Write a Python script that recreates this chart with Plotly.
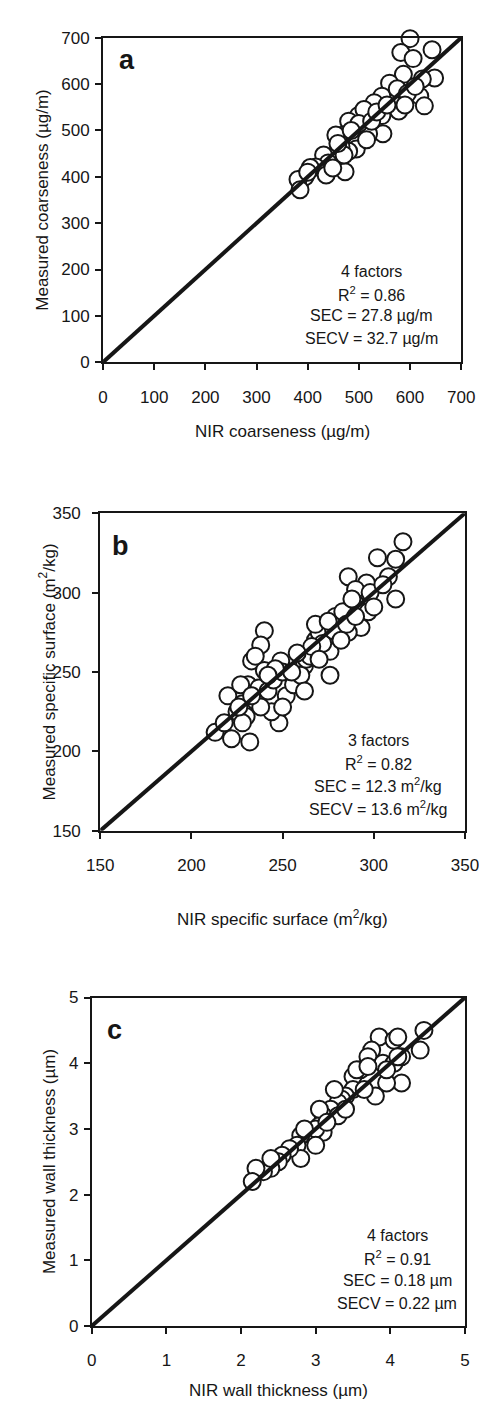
import plotly.graph_objects as go

# ---------------- data ----------------
a_nir = [600, 643, 582, 606, 648, 624, 587, 560, 619, 628, 578, 563, 545, 545, 499, 547, 519, 490,
         530, 510, 480, 470, 460, 495, 480, 465, 450, 431, 440, 473, 416, 405, 436, 449, 395, 381,
         385, 400, 455, 500, 525, 515, 575, 595, 535, 555, 610, 590, 471, 485, 459]
a_meas = [698, 674, 668, 655, 613, 611, 621, 602, 574, 553, 542, 570, 574, 532, 532, 493, 493, 504,
          560, 545, 520, 490, 480, 460, 455, 465, 445, 447, 430, 411, 421, 420, 404, 419, 400, 394,
          372, 410, 490, 515, 520, 480, 590, 580, 540, 555, 595, 555, 447, 500, 472]

b_nir = [316, 312, 302, 286, 296, 308, 290, 312, 290, 297, 281, 293, 286, 280, 240, 238, 233, 240,
         249, 261, 271, 279, 276, 274, 262, 276, 231, 213, 218, 222, 220, 225, 228, 232, 230, 235,
         237, 242, 245, 248, 250, 252, 256, 260, 263, 265, 268, 270, 272, 278, 283, 288, 298, 305,
         227, 235, 244, 250, 228, 238, 255, 262, 266, 285, 300, 268, 275, 282, 290, 258, 270, 246,
         226, 233, 242]
b_meas = [332, 321, 322, 310, 306, 310, 302, 296, 293, 288, 285, 278, 275, 275, 276, 267, 257, 251,
          257, 256, 278, 285, 263, 272, 254, 248, 242, 212, 218, 208, 235, 225, 230, 206, 222, 232,
          240, 238, 245, 218, 250, 235, 242, 248, 258, 260, 270, 275, 268, 276, 288, 296, 300, 305,
          242, 260, 225, 228, 218, 228, 250, 238, 266, 280, 291, 280, 282, 270, 285, 262, 258, 252,
          228, 235, 248]

c_nir = [4.45, 4.40, 3.85, 4.05, 4.10, 3.75, 3.70, 3.90, 4.05, 4.15, 4.15, 3.95, 3.80, 3.60, 3.50,
         3.55, 3.50, 3.40, 3.35, 3.30, 3.25, 3.20, 3.10, 3.30, 3.40, 3.05, 3.10, 2.95, 3.00, 2.80,
         2.75, 2.80, 2.65, 2.55, 2.50, 2.40, 2.30, 2.20, 2.15, 2.40, 2.85, 3.00, 3.65, 3.70, 3.95,
         4.10, 3.05, 3.15]
c_meas = [4.50, 4.20, 4.40, 4.35, 4.40, 4.20, 4.10, 4.00, 4.00, 4.10, 3.70, 3.70, 3.50, 3.90, 3.80,
          3.90, 3.60, 3.50, 3.45, 3.40, 3.60, 3.30, 3.20, 3.20, 3.30, 3.05, 2.95, 2.90, 3.00, 2.90,
          2.75, 2.55, 2.70, 2.60, 2.50, 2.40, 2.35, 2.40, 2.20, 2.55, 3.00, 2.75, 3.60, 3.95, 3.90,
          4.10, 3.30, 3.10]

a_range = [0, 700]
b_range = [150, 350]
c_range = [0, 5]

a_stats = ["4 factors", "R<sup>2</sup> = 0.86", "SEC = 27.8 µg/m", "SECV = 32.7 µg/m"]
b_stats = ["3 factors", "R<sup>2</sup> = 0.82", "SEC = 12.3 m<sup>2</sup>/kg", "SECV = 13.6 m<sup>2</sup>/kg"]
c_stats = ["4 factors", "R<sup>2</sup> = 0.91", "SEC = 0.18 µm", "SECV = 0.22 µm"]

# ---------------- layout helpers ----------------
W, H = 487, 1403
FONT = "Liberation Sans, Arial, sans-serif"
INK = "#161616"


def xd(p):
    return p / W


def yd(p):
    return 1 - p / H


panels = [
    dict(x=a_nir, y=a_meas, rng=a_range, dtick=100, rect=(86, 21, 466, 350), ystand=2,
         xt="NIR coarseness (µg/m)", yt="Measured coarseness (µg/m)", letter="a",
         stats=a_stats, cx=371, sy=[258, 281, 303, 326], ytx=22, xty=420, lpos=(111, 44)),
    dict(x=b_nir, y=b_meas, rng=b_range, dtick=50, rect=(83, 503, 470, 825), ystand=8,
         xt="NIR specific surface (m<sup>2</sup>/kg)", yt="Measured specific surface (m<sup>2</sup>/kg)",
         letter="b", stats=b_stats, cx=378, sy=[733, 756, 779, 802], ytx=27, xty=913, lpos=(105, 536)),
    dict(x=c_nir, y=c_meas, rng=c_range, dtick=1, rect=(74, 994, 470, 1327), ystand=2,
         xt="NIR wall thickness (µm)", yt="Measured wall thickness (µm)", letter="c",
         stats=c_stats, cx=398, sy=[1235, 1258, 1281, 1304], ytx=30, xty=1392, lpos=(98, 1027)),
]

fig = go.Figure()
annotations = []
layout = {}

for i, p in enumerate(panels, start=1):
    sfx = "" if i == 1 else str(i)
    l, t, r, b = p["rect"]
    ax = dict(
        domain=[xd(l), xd(r)], range=p["rng"], dtick=p["dtick"], tick0=p["rng"][0],
        showline=True, linecolor=INK, linewidth=2, mirror=True,
        ticks="outside", ticklen=6, tickwidth=2, tickcolor=INK,
        showgrid=False, zeroline=False, fixedrange=True,
        tickfont=dict(family=FONT, size=17, color=INK),
    )
    xa = dict(ax, anchor="y" + sfx, ticklabelstandoff=12)
    ya = dict(ax, domain=[yd(b), yd(t)], anchor="x" + sfx, ticklabelstandoff=p["ystand"])
    layout["xaxis" + sfx] = xa
    layout["yaxis" + sfx] = ya

    fig.add_trace(go.Scatter(
        x=p["x"], y=p["y"], mode="markers", xaxis="x" + sfx, yaxis="y" + sfx,
        marker=dict(size=17, color="white", line=dict(color=INK, width=2)),
        cliponaxis=False, showlegend=False, hoverinfo="skip",
    ))
    fig.add_trace(go.Scatter(
        x=p["rng"], y=p["rng"], mode="lines", xaxis="x" + sfx, yaxis="y" + sfx,
        line=dict(color=INK, width=4), showlegend=False, hoverinfo="skip",
    ))

    annotations.append(dict(
        text=p["xt"], xref="paper", yref="paper", x=xd((l + r) / 2), y=yd(p["xty"]),
        xanchor="center", yanchor="middle", showarrow=False,
        font=dict(family=FONT, size=17, color=INK)))
    annotations.append(dict(
        text=p["yt"], xref="paper", yref="paper", x=xd(p["ytx"]), y=yd((t + b) / 2),
        xanchor="center", yanchor="middle", showarrow=False, textangle=-90,
        font=dict(family=FONT, size=17, color=INK)))
    annotations.append(dict(
        text="<b>%s</b>" % p["letter"], xref="paper", yref="paper",
        x=xd(p["lpos"][0]), y=yd(p["lpos"][1]), xanchor="center", yanchor="middle",
        showarrow=False, font=dict(family=FONT, size=27, color=INK)))
    for txt, sy in zip(p["stats"], p["sy"]):
        annotations.append(dict(
            text=txt, xref="paper", yref="paper", x=xd(p["cx"]), y=yd(sy),
            xanchor="center", yanchor="middle", showarrow=False,
            font=dict(family=FONT, size=16, color=INK)))

fig.update_layout(
    width=W, height=H, margin=dict(l=0, r=0, t=0, b=0),
    paper_bgcolor="white", plot_bgcolor="white",
    annotations=annotations, **layout,
)

fig.write_html("out.html", config={"displayModeBar": False})
